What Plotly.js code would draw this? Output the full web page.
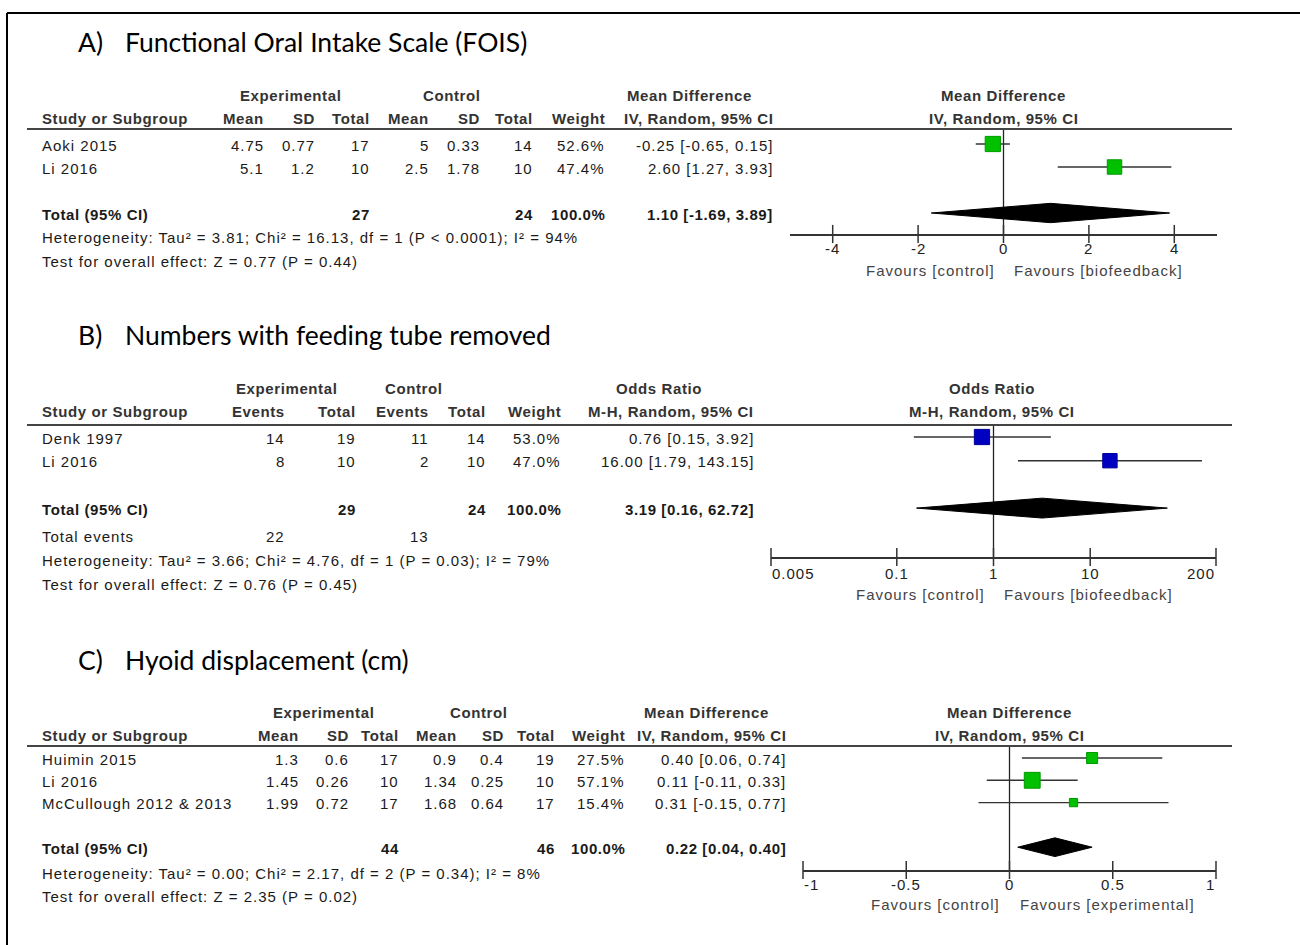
<!DOCTYPE html>
<html><head><meta charset="utf-8">
<script src="https://cdn.plot.ly/plotly-3.0.1.min.js"></script>
<style>
html,body{margin:0;padding:0;background:#fff;}
.annotation-text[style*="Liberation"]{letter-spacing:1px;}
.annotation-text[style*="Liberation"][style*="700"]{letter-spacing:0.6px;}
</style>
</head><body><div id="chart" style="width:1300px;height:945px;"></div>
<script>
// ---------------- DATA ----------------
// A) Functional Oral Intake Scale (FOIS)
const foisStudies = ["Aoki 2015", "Li 2016"];
const foisExpMean = [4.75, 5.1];
const foisExpSD   = [0.77, 1.2];
const foisExpN    = [17, 10];
const foisCtlMean = [5, 2.5];
const foisCtlSD   = [0.33, 1.78];
const foisCtlN    = [14, 10];
const foisWeight  = [52.6, 47.4];
const foisEst     = [-0.25, 2.60];
const foisLo      = [-0.65, 1.27];
const foisHi      = [0.15, 3.93];
const foisTotalN  = [27, 24];
const foisTotalCI = [1.10, -1.69, 3.89];
const foisTicks   = [-4, -2, 0, 2, 4];
const foisStats   = ["Heterogeneity: Tau² = 3.81; Chi² = 16.13, df = 1 (P < 0.0001); I² = 94%",
                     "Test for overall effect: Z = 0.77 (P = 0.44)"];

// B) Numbers with feeding tube removed
const tubeStudies   = ["Denk 1997", "Li 2016"];
const tubeExpEvents = [14, 8];
const tubeExpN      = [19, 10];
const tubeCtlEvents = [11, 2];
const tubeCtlN      = [14, 10];
const tubeWeight    = [53.0, 47.0];
const tubeEst       = [0.76, 16.00];
const tubeLo        = [0.15, 1.79];
const tubeHi        = [3.92, 143.15];
const tubeTotalN    = [29, 24];
const tubeTotalEvents = [22, 13];
const tubeTotalCI   = [3.19, 0.16, 62.72];
const tubeTicks     = [0.005, 0.1, 1, 10, 200];
const tubeStats     = ["Heterogeneity: Tau² = 3.66; Chi² = 4.76, df = 1 (P = 0.03); I² = 79%",
                       "Test for overall effect: Z = 0.76 (P = 0.45)"];

// C) Hyoid displacement (cm)
const hyoidStudies = ["Huimin 2015", "Li 2016", "McCullough 2012 & 2013"];
const hyoidExpMean = [1.3, 1.45, 1.99];
const hyoidExpSD   = [0.6, 0.26, 0.72];
const hyoidExpN    = [17, 10, 17];
const hyoidCtlMean = [0.9, 1.34, 1.68];
const hyoidCtlSD   = [0.4, 0.25, 0.64];
const hyoidCtlN    = [19, 10, 17];
const hyoidWeight  = [27.5, 57.1, 15.4];
const hyoidEst     = [0.40, 0.11, 0.31];
const hyoidLo      = [0.06, -0.11, -0.15];
const hyoidHi      = [0.74, 0.33, 0.77];
const hyoidTotalN  = [44, 46];
const hyoidTotalCI = [0.22, 0.04, 0.40];
const hyoidTicks   = [-1, -0.5, 0, 0.5, 1];
const hyoidStats   = ["Heterogeneity: Tau² = 0.00; Chi² = 2.17, df = 2 (P = 0.34); I² = 8%",
                      "Test for overall effect: Z = 2.35 (P = 0.02)"];

// ---------------- PANEL DEFINITIONS ----------------
const panels = [
  { letter: "A)", title: "Functional Oral Intake Scale (FOIS)",
    groups: ["Experimental", "Control", "Mean Difference"],
    colNames: ["Mean", "SD", "Total", "Mean", "SD", "Total"],
    ciName: "IV, Random, 95% CI", plotName: "Mean Difference",
    studies: foisStudies,
    cols: [foisExpMean, foisExpSD, foisExpN, foisCtlMean, foisCtlSD, foisCtlN],
    totalCols: {2: foisTotalN[0], 5: foisTotalN[1]},
    weight: foisWeight, est: foisEst, lo: foisLo, hi: foisHi, totalCI: foisTotalCI,
    stats: foisStats, ticks: foisTicks, nullValue: 0, log: false,
    favours: ["Favours [control]", "Favours [biofeedback]"],
    color: "#00c000", edge: "#009a00",
    L: { titleY: 42, h1: 96, h2: 118, rule: 129, row0: 144, step: 23, statY: [238, 261],
         colX: [265, 316, 371, 430, 481, 534], wX: 606, ciX: 774, gX: [290, 452, 689],
         pX: [790, 1217], range: [-5, 5], axisY: 234, tickY: 249, favY: 270 } },
  { letter: "B)", title: "Numbers with feeding tube removed",
    groups: ["Experimental", "Control", "Odds Ratio"],
    colNames: ["Events", "Total", "Events", "Total"],
    ciName: "M-H, Random, 95% CI", plotName: "Odds Ratio",
    studies: tubeStudies,
    cols: [tubeExpEvents, tubeExpN, tubeCtlEvents, tubeCtlN],
    totalCols: {1: tubeTotalN[0], 3: tubeTotalN[1]},
    totalEvents: {0: tubeTotalEvents[0], 2: tubeTotalEvents[1]},
    weight: tubeWeight, est: tubeEst, lo: tubeLo, hi: tubeHi, totalCI: tubeTotalCI,
    stats: tubeStats, ticks: tubeTicks, nullValue: 1, log: true,
    favours: ["Favours [control]", "Favours [biofeedback]"],
    color: "#0000c0", edge: "#00009a",
    L: { titleY: 335, h1: 388, h2: 412, rule: 425, row0: 437, step: 23.7, eventsY: 536, statY: [560, 584],
         colX: [286, 357, 430, 487], wX: 562, ciX: 755, gX: [286, 414, 659],
         pX: [771, 1216], range: [Math.log10(0.005), Math.log10(200)], axisY: 557, tickY: 573, favY: 594 } },
  { letter: "C)", title: "Hyoid displacement (cm)",
    groups: ["Experimental", "Control", "Mean Difference"],
    colNames: ["Mean", "SD", "Total", "Mean", "SD", "Total"],
    ciName: "IV, Random, 95% CI", plotName: "Mean Difference",
    studies: hyoidStudies,
    cols: [hyoidExpMean, hyoidExpSD, hyoidExpN, hyoidCtlMean, hyoidCtlSD, hyoidCtlN],
    totalCols: {2: hyoidTotalN[0], 5: hyoidTotalN[1]},
    weight: hyoidWeight, est: hyoidEst, lo: hyoidLo, hi: hyoidHi, totalCI: hyoidTotalCI,
    stats: hyoidStats, ticks: hyoidTicks, nullValue: 0, log: false,
    favours: ["Favours [control]", "Favours [experimental]"],
    color: "#00c000", edge: "#009a00",
    L: { titleY: 660, h1: 712, h2: 735, rule: 746, row0: 758, step: 22.3, statY: [873, 896],
         colX: [300, 350, 400, 458, 505, 556], wX: 626, ciX: 787, gX: [323, 479, 706],
         pX: [803, 1216], range: [-1, 1], axisY: 870, tickY: 884, favY: 904 } }
];

// ---------------- BUILD ----------------
const W = 1300, H = 945;
const PX = x => x / W, PY = y => 1 - y / H;
const TF = '"Liberation Sans", Arial, sans-serif';
const annotations = [];
const shapes = [];
const traces = [];
const layout = {
  width: W, height: H, margin: {l: 0, r: 0, t: 0, b: 0},
  paper_bgcolor: "#fff", plot_bgcolor: "rgba(0,0,0,0)", showlegend: false,
  annotations, shapes
};
function txt(text, x, y, o = {}) {
  annotations.push({ text: String(text), x: PX(x), y: PY(y), xref: "paper", yref: "paper",
    xanchor: o.anchor || "left", yanchor: "middle", showarrow: false, borderpad: 0,
    font: { family: o.family || TF, size: o.size || 15, color: o.color || "#1a1a1a", weight: o.bold ? 700 : 400 } });
}
const fmtCI = (e, l, h) => e.toFixed(2) + " [" + l.toFixed(2) + ", " + h.toFixed(2) + "]";

// frame
shapes.push({type: "line", xref: "paper", yref: "paper", x0: PX(7), x1: PX(7), y0: PY(13), y1: 0, line: {color: "#000", width: 2}});
shapes.push({type: "line", xref: "paper", yref: "paper", x0: PX(7), x1: 1, y0: PY(13), y1: PY(13), line: {color: "#000", width: 2}});

panels.forEach((p, k) => {
  const L = p.L, n = p.studies.length;
  const sfx = k === 0 ? "" : String(k + 1);
  const xa = "x" + sfx, ya = "y" + sfx;
  const rowY = i => L.row0 + i * L.step;
  const totIdx = n + 1;

  // title
  txt(p.letter, 77, L.titleY, {family: "Lato, sans-serif", size: 26.5, color: "#000"});
  txt(p.title, 124, L.titleY, {family: "Lato, sans-serif", size: 26.5, color: "#000"});

  // group headers
  p.groups.forEach((g, j) => txt(g, L.gX[j], L.h1, {anchor: "center", bold: true, color: "#333"}));
  const pc = (L.pX[0] + L.pX[1]) / 2 + (k === 1 ? -2 : 0);
  txt(p.plotName, pc, L.h1, {anchor: "center", bold: true, color: "#333"});
  // column headers
  txt("Study or Subgroup", 41, L.h2, {bold: true, color: "#333"});
  p.colNames.forEach((c, j) => txt(c, L.colX[j], L.h2, {anchor: "right", bold: true, color: "#333"}));
  txt("Weight", L.wX, L.h2, {anchor: "right", bold: true, color: "#333"});
  txt(p.ciName, L.ciX, L.h2, {anchor: "right", bold: true, color: "#333"});
  txt(p.ciName, pc, L.h2, {anchor: "center", bold: true, color: "#333"});
  // rule
  shapes.push({type: "line", xref: "paper", yref: "paper", x0: PX(27), x1: PX(1232), y0: PY(L.rule), y1: PY(L.rule), line: {color: "#444", width: 2}});

  // study rows
  p.studies.forEach((s, i) => {
    const y = rowY(i) + 1;
    txt(s, 41, y);
    p.cols.forEach((col, j) => txt(col[i], L.colX[j], y, {anchor: "right"}));
    txt(p.weight[i].toFixed(1) + "%", L.wX, y, {anchor: "right"});
    txt(fmtCI(p.est[i], p.lo[i], p.hi[i]), L.ciX, y, {anchor: "right"});
  });
  // total row
  const ty = rowY(totIdx) + 1;
  txt("Total (95% CI)", 41, ty, {bold: true});
  Object.keys(p.totalCols).forEach(j => txt(p.totalCols[j], L.colX[j], ty, {anchor: "right", bold: true}));
  txt("100.0%", L.wX, ty, {anchor: "right", bold: true});
  txt(fmtCI(p.totalCI[0], p.totalCI[1], p.totalCI[2]), L.ciX, ty, {anchor: "right", bold: true});
  if (p.totalEvents) {
    txt("Total events", 41, L.eventsY);
    Object.keys(p.totalEvents).forEach(j => txt(p.totalEvents[j], L.colX[j], L.eventsY, {anchor: "right"}));
  }
  txt(p.stats[0], 41, L.statY[0]);
  txt(p.stats[1], 41, L.statY[1]);

  // axes
  const yRange = [(L.axisY - L.row0) / L.step, (L.rule - L.row0) / L.step];
  layout["xaxis" + sfx] = { domain: [PX(L.pX[0]), PX(L.pX[1])], range: L.range, type: p.log ? "log" : "linear",
    anchor: ya, showline: true, linecolor: "#333", linewidth: 1.5, showgrid: false, zeroline: false,
    ticks: "", showticklabels: false, fixedrange: true };
  layout["yaxis" + sfx] = { domain: [PY(L.axisY), PY(L.rule)], range: yRange, anchor: xa,
    visible: false, showgrid: false, zeroline: false, fixedrange: true };

  // null line
  traces.push({ type: "scatter", mode: "lines", xaxis: xa, yaxis: ya, x: [p.nullValue, p.nullValue], y: yRange,
    line: {color: "#222", width: 1.3}, hoverinfo: "skip", cliponaxis: false });
  // tick marks
  traces.push({ type: "scatter", mode: "markers", xaxis: xa, yaxis: ya, x: p.ticks, y: p.ticks.map(() => yRange[0]),
    marker: {symbol: "line-ns", size: 13, line: {color: "#333", width: 1.5}}, hoverinfo: "skip", cliponaxis: false });
  // tick labels
  p.ticks.forEach((t, j) => {
    const tv = p.log ? Math.log10(t) : t;
    const atStart = j === 0 && Math.abs(tv - L.range[0]) < 1e-9;
    const atEnd = j === p.ticks.length - 1 && Math.abs(tv - L.range[1]) < 1e-9;
    annotations.push({ text: String(t), x: tv, xref: xa, y: PY(L.tickY), yref: "paper",
      xanchor: atStart ? "left" : (atEnd ? "right" : "center"), yanchor: "middle", showarrow: false, borderpad: 0,
      font: {family: TF, size: 15, color: "#222"} });
  });
  // favours
  const nullPx = L.pX[0] + ((p.log ? Math.log10(p.nullValue) : p.nullValue) - L.range[0]) / (L.range[1] - L.range[0]) * (L.pX[1] - L.pX[0]);
  txt(p.favours[0], nullPx - 8, L.favY, {anchor: "right", color: "#444"});
  txt(p.favours[1], nullPx + 9, L.favY, {anchor: "left", color: "#444"});

  // study estimates with CIs
  traces.push({ type: "scatter", mode: "markers", xaxis: xa, yaxis: ya,
    x: p.est, y: p.studies.map((s, i) => i),
    error_x: { type: "data", symmetric: false, array: p.est.map((e, i) => p.hi[i] - e),
               arrayminus: p.est.map((e, i) => e - p.lo[i]), width: 0, color: "#333", thickness: 1.4 },
    marker: { symbol: "square", size: p.weight.map(w => 2.1 * Math.sqrt(w)), opacity: 1,
              color: p.color, line: {color: p.edge, width: 1} },
    cliponaxis: false, hoverinfo: "x" });
  // pooled diamond
  const [te, tl, th] = p.totalCI, hh = 0.42;
  traces.push({ type: "scatter", mode: "lines", xaxis: xa, yaxis: ya,
    x: [tl, te, th, te, tl], y: [totIdx, totIdx - hh, totIdx, totIdx + hh, totIdx],
    fill: "toself", fillcolor: "#000", line: {color: "#000", width: 1}, hoverinfo: "skip", cliponaxis: false });
});

Plotly.newPlot("chart", traces, layout, {displayModeBar: false, staticPlot: true});
</script></body></html>
